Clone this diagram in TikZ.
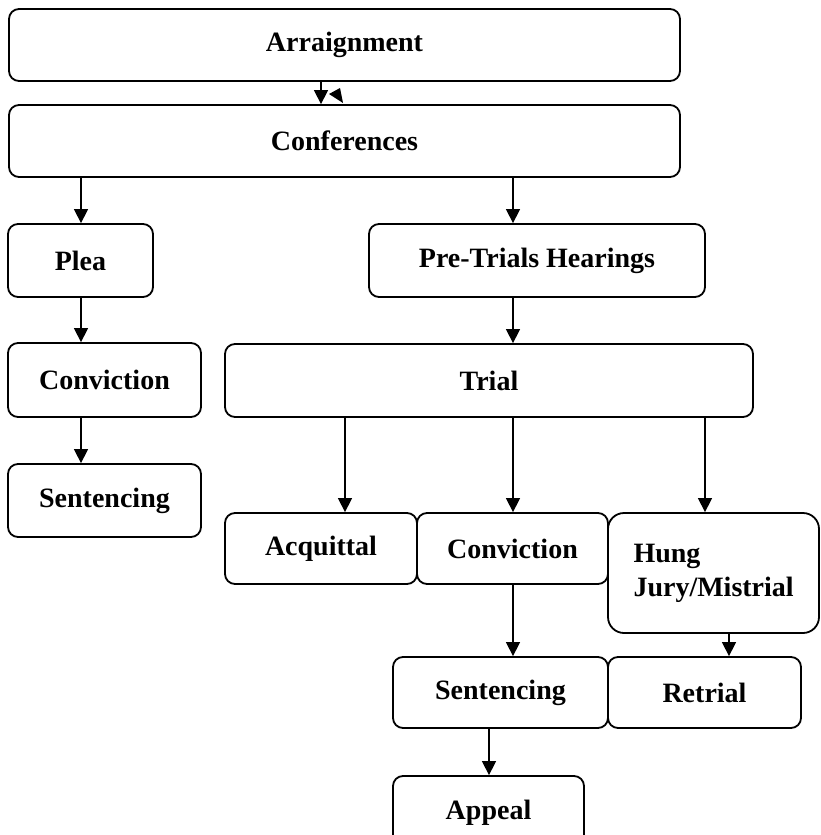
\documentclass[tikz,border=0pt]{standalone}
\usepackage{fontspec}
\setmainfont{Liberation Serif}
\usetikzlibrary{arrows.meta}

\begin{document}
\begin{tikzpicture}[x=1pt,y=-1pt,
  stage/.style={draw, line width=1.8pt, rounded corners=10pt, inner sep=0pt,
    font=\bfseries\fontsize{28}{34}\selectfont},
  flow/.style={-{Triangle[width=14pt,length=14pt]}, line width=1.4pt}]
\useasboundingbox (0,0) rectangle (820,835);
\clip (0,0) rectangle (820,835);

% columns of the connectors
\coordinate (xa) at (81,0);
\coordinate (xb) at (321,0);
\coordinate (xc) at (345,0);
\coordinate (xd) at (513,0);
\coordinate (xe) at (705,0);
\coordinate (xf) at (729,0);
\coordinate (xg) at (489,0);

% top boxes
\node[stage, minimum width=671pt, minimum height=72pt] (arr) at (344.5,45) {Arraignment};
\node[stage, minimum width=671pt, minimum height=72pt] (conf) at (344.5,141) {Conferences};

% plea branch
\node[stage, minimum width=145pt, minimum height=73pt] (plea) at (80.5,260.5) {Plea};
\node[stage, minimum width=193pt, minimum height=74pt] (conva) at (104.5,380) {Conviction};
\node[stage, minimum width=193pt, minimum height=73pt] (senta) at (104.5,500.5) {Sentencing};

% trial branch
\node[stage, minimum width=336pt, minimum height=73pt] (pretrial) at (537,260.5) {Pre-Trials Hearings};
\node[stage, minimum width=528pt, minimum height=73pt] (trial) at (489,380.5) {Trial};
\node[stage, minimum width=192pt, minimum height=71pt] (acq) at (321,548.5) {Acquittal};
\node[stage, minimum width=191pt, minimum height=71pt] (convb) at (512.5,548.5) {Conviction};
\node[stage, rounded corners=16pt, minimum width=211pt, minimum height=120pt,
  text width=160pt, align=left] (hung) at (713.5,573) {Hung\\Jury/Mistrial};
\node[stage, minimum width=215pt, minimum height=71pt] (sentb) at (500.5,692.5) {Sentencing};
\node[stage, minimum width=193pt, minimum height=71pt] (retrial) at (704.5,692.5) {Retrial};
\node[stage, minimum width=191pt, minimum height=73pt] (appeal) at (488.5,812.5) {Appeal};

% connectors
\draw[flow] (arr.south -| xb) -- (conf.north -| xb);
\fill (329,94) -- (340,88) -- (343,103) -- cycle;
\draw[flow] (conf.south -| xa) -- (plea.north -| xa);
\draw[flow] (conf.south -| xd) -- (pretrial.north -| xd);
\draw[flow] (plea.south -| xa) -- (conva.north -| xa);
\draw[flow] (conva.south -| xa) -- (senta.north -| xa);
\draw[flow] (pretrial.south -| xd) -- (trial.north -| xd);
\draw[flow] (trial.south -| xc) -- (acq.north -| xc);
\draw[flow] (trial.south -| xd) -- (convb.north -| xd);
\draw[flow] (trial.south -| xe) -- (hung.north -| xe);
\draw[flow] (convb.south -| xd) -- (sentb.north -| xd);
\draw[flow] (hung.south -| xf) -- (retrial.north -| xf);
\draw[flow] (sentb.south -| xg) -- (appeal.north -| xg);

\end{tikzpicture}
\end{document}
